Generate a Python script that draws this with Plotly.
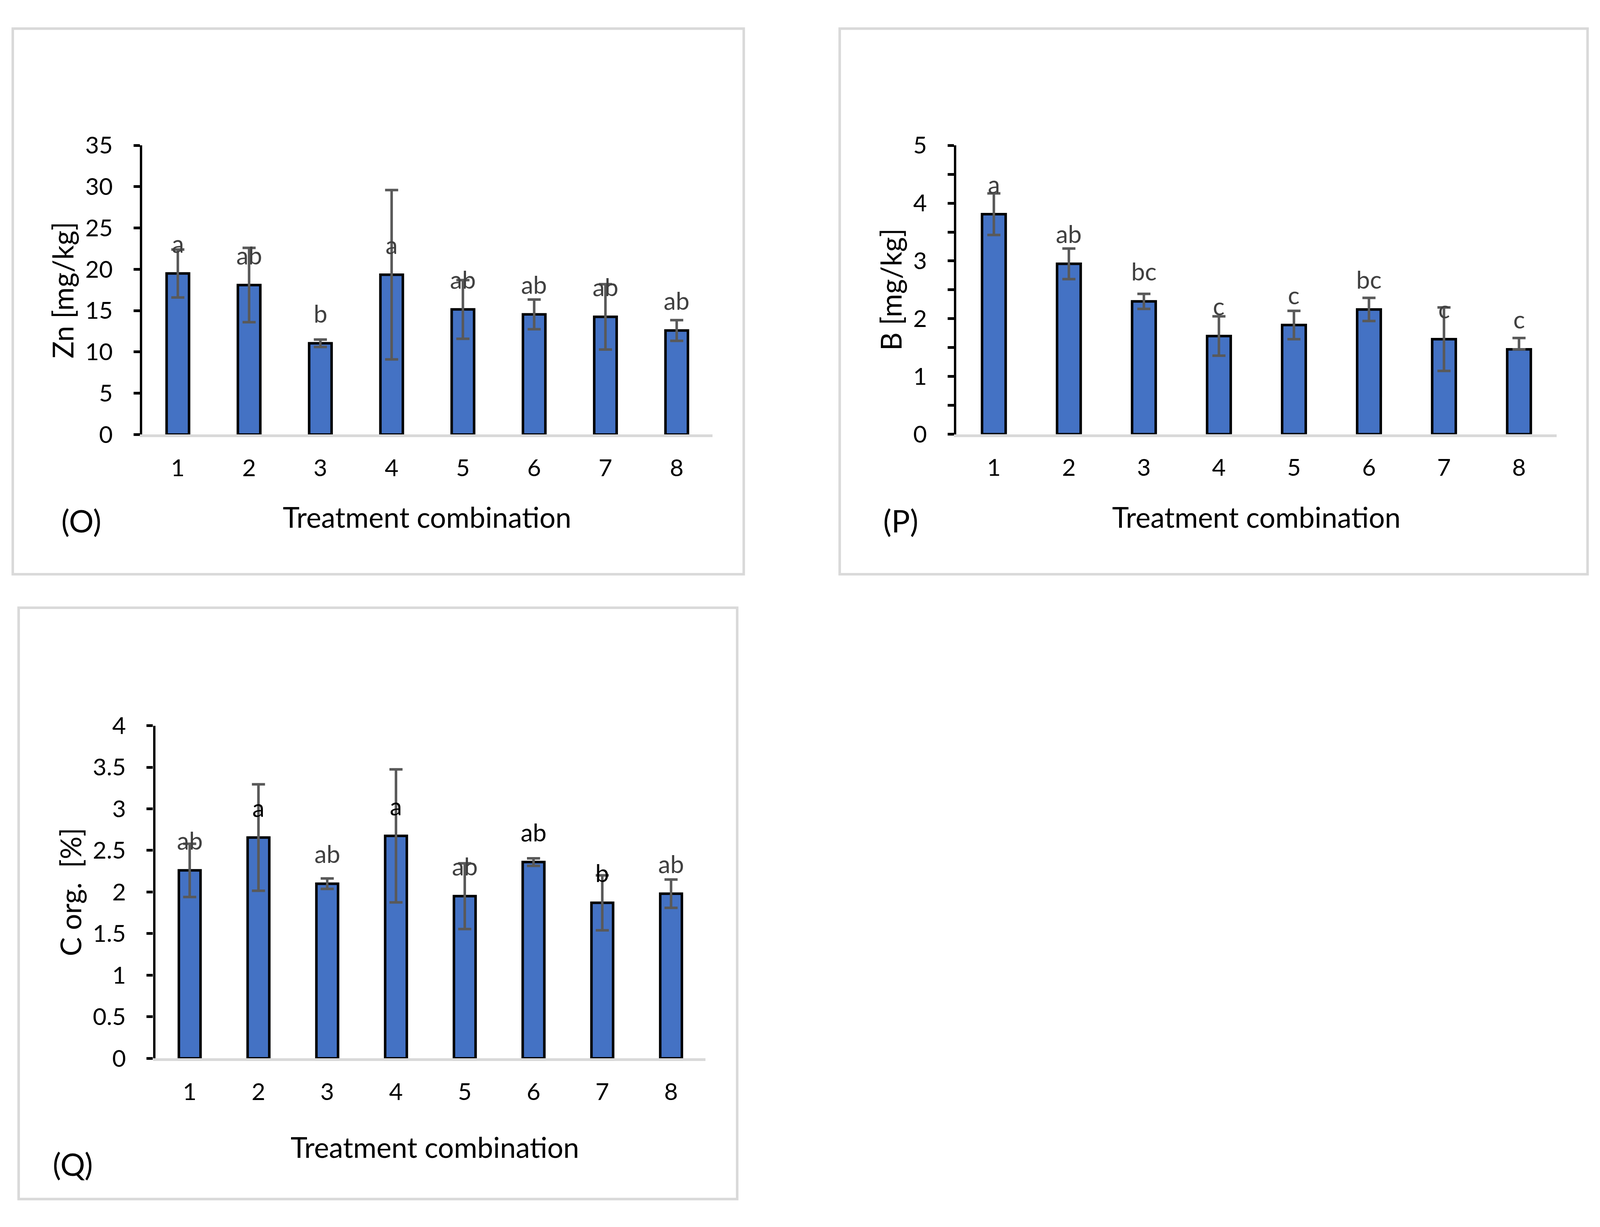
import plotly.graph_objects as go

# Reference geometry is measured on a 4636 x 3141 picture.  The figure is made
# responsive so that it fills the browser window; positions are given as
# fractions of the window, pixel sizes are scaled for a ~4096 x 3141 viewport.
REF_W, REF_H = 4636, 3141
VW, VH = 4096, 3141          # expected CSS viewport
BODY = 8                     # default body margin
SX = VW / REF_W              # horizontal px scale
SY = VH / REF_H              # vertical px scale
SF = 0.92                    # font scale (compromise between SX and SY)
FONT = "Lato"

# ---------------- data ----------------
categories = [1, 2, 3, 4, 5, 6, 7, 8]

zn_mean = [19.5, 18.1, 11.05, 19.35, 15.15, 14.55, 14.25, 12.6]
zn_err = [2.9, 4.5, 0.45, 10.25, 3.55, 1.8, 3.95, 1.25]
zn_err_minus = [2.9, 4.5, 0.45, 10.25, 3.55, 1.8, 3.95, 1.25]
zn_letters = ["a", "ab", "b", "a", "ab", "ab", "ab", "ab"]
zn_ticks = [0, 5, 10, 15, 20, 25, 30, 35]
zn_ticklabels = ["0", "5", "10", "15", "20", "25", "30", "35"]

b_mean = [3.81, 2.95, 2.30, 1.70, 1.89, 2.16, 1.645, 1.47]
b_err = [0.36, 0.265, 0.13, 0.34, 0.245, 0.20, 0.55, 0.195]
b_err_minus = [0.36, 0.265, 0.13, 0.34, 0.245, 0.20, 0.55, 0.0]
b_letters = ["a", "ab", "bc", "c", "c", "bc", "c", "c"]
b_ticks = [0, 0.5, 1, 1.5, 2, 2.5, 3, 3.5, 4, 4.5, 5]
b_ticklabels = ["0", "", "1", "", "2", "", "3", "", "4", "", "5"]

c_mean = [2.26, 2.655, 2.10, 2.675, 1.95, 2.36, 1.87, 1.98]
c_err = [0.32, 0.64, 0.063, 0.80, 0.395, 0.045, 0.33, 0.17]
c_err_minus = [0.32, 0.64, 0.063, 0.80, 0.395, 0.045, 0.33, 0.17]
c_letters = ["ab", "a", "ab", "a", "ab", "ab", "b", "ab"]
c_letter_dark = [False, True, False, True, False, True, True, False]
c_ticks = [0, 0.5, 1, 1.5, 2, 2.5, 3, 3.5, 4]
c_ticklabels = ["0", "0.5", "1", "1.5", "2", "2.5", "3", "3.5", "4"]

x_title = "Treatment combination"

# ---------------- helpers ----------------
def px(x):
    return (x / REF_W * VW - BODY) / (VW - 20)

def py(y):
    return 1 - (y / REF_H * VH - BODY) / (VH - 20)

def f(v):
    return v * SF

BAR_COLOR = "#4472c4"
ERR_COLOR = "#595959"
LABEL_GRAY = "#404040"
AXIS_GRAY = "#d9d9d9"

panels = [
    dict(key="", ov="4", mean=zn_mean, err=zn_err, errm=zn_err_minus, letters=zn_letters,
         dark=[False] * 8, ticks=zn_ticks, ticklabels=zn_ticklabels, yr=[0, 35],
         xd=(412, 2064), yd=(1099, 341), ytitle="Zn [mg/kg]",
         ytitle_pos=(180, 720), xtitle_pos=(1238, 1314),
         tag="(O)", tag_pos=(235, 1324), box=(37, 35, 2155, 1465)),
    dict(key="2", ov="5", mean=b_mean, err=b_err, errm=b_err_minus, letters=b_letters,
         dark=[False] * 8, ticks=b_ticks, ticklabels=b_ticklabels, yr=[0, 5],
         xd=(2771, 4510), yd=(1098, 341), ytitle="B [mg/kg]",
         ytitle_pos=(2580, 719), xtitle_pos=(3640, 1314),
         tag="(P)", tag_pos=(2610, 1324), box=(2433, 35, 4600, 1465)),
    dict(key="3", ov="6", mean=c_mean, err=c_err, errm=c_err_minus, letters=c_letters,
         dark=c_letter_dark, ticks=c_ticks, ticklabels=c_ticklabels, yr=[0, 4],
         xd=(450, 2044), yd=(2734, 1862), ytitle="C org.  [%]",
         ytitle_pos=(203, 2298), xtitle_pos=(1260, 2966),
         tag="(Q)", tag_pos=(211, 3011), box=(54, 1553, 2136, 3103)),
]

fig = go.Figure()
annotations = []
shapes = []
layout = {}

for p in panels:
    k = p["key"]
    xa = "x" + k
    ya = "y" + k
    fig.add_trace(go.Bar(
        x=categories, y=p["mean"], xaxis=xa, yaxis=ya, width=0.315,
        marker=dict(color=BAR_COLOR, line=dict(color="black", width=6.5)),
        error_y=dict(type="data", array=p["err"], arrayminus=p["errm"], symmetric=False,
                     visible=True, color=ERR_COLOR, thickness=6.5, width=19 * SX),
        showlegend=False, hoverinfo="skip",
    ))
    for c, m, t, d in zip(categories, p["mean"], p["letters"], p["dark"]):
        annotations.append(dict(
            x=c, y=m, xref=xa, yref=ya, text=t, showarrow=False,
            xanchor="center", yanchor="bottom", yshift=38 * SY,
            font=dict(family=FONT, size=f(68), color="black" if d else LABEL_GRAY),
        ))
    layout["xaxis" + k] = dict(
        domain=[px(p["xd"][0]), px(p["xd"][1])], range=[0.5, 8.5],
        anchor=ya, tickvals=categories, ticktext=[str(c) for c in categories],
        showline=True, linecolor=AXIS_GRAY, linewidth=7 * SY, ticks="",
        showgrid=False, zeroline=False, ticklabelstandoff=int(round(27 * SY)),
        tickfont=dict(family=FONT, size=f(66), color="black"),
    )
    layout["yaxis" + k] = dict(
        domain=[py(p["yd"][0]), py(p["yd"][1])], range=p["yr"], anchor=xa,
        tickvals=p["ticks"], ticktext=p["ticklabels"],
        ticks="outside", ticklen=int(round(18 * SX)), tickwidth=7 * SY, tickcolor="black",
        showline=True, linecolor="black", linewidth=7 * SX,
        showgrid=False, zeroline=False, ticklabelstandoff=int(round(46 * SX)),
        tickfont=dict(family=FONT, size=f(66), color="black"),
    )
    layout["yaxis" + p["ov"]] = dict(
        overlaying=ya, anchor=xa, side="left", range=p["yr"],
        tickvals=p["ticks"], ticks="inside", ticklen=int(round(18 * SX)), tickwidth=7 * SY,
        tickcolor="black", showticklabels=False, showline=False,
        showgrid=False, zeroline=False,
    )
    annotations.append(dict(
        x=px(p["xtitle_pos"][0]), y=py(p["xtitle_pos"][1]), xref="paper", yref="paper",
        text=x_title, showarrow=False, xanchor="center", yanchor="middle",
        font=dict(family=FONT, size=f(79), color="black"),
    ))
    annotations.append(dict(
        x=px(p["ytitle_pos"][0]), y=py(p["ytitle_pos"][1]), xref="paper", yref="paper",
        text=p["ytitle"], showarrow=False, xanchor="center", yanchor="middle",
        textangle=-90, font=dict(family=FONT, size=f(79), color="black"),
    ))
    annotations.append(dict(
        x=px(p["tag_pos"][0]), y=py(p["tag_pos"][1]), xref="paper", yref="paper",
        text=p["tag"], showarrow=False, xanchor="center", yanchor="middle",
        font=dict(family=FONT, size=f(86), color="black"),
    ))
    b = p["box"]
    shapes.append(dict(
        type="rect", xref="paper", yref="paper",
        x0=px(b[0]), x1=px(b[2]), y0=py(b[3]), y1=py(b[1]),
        line=dict(color=AXIS_GRAY, width=6.5), fillcolor="rgba(0,0,0,0)", layer="below",
    ))

fig.update_layout(
    autosize=True, margin=dict(l=0, r=0, t=0, b=0),
    paper_bgcolor="white", plot_bgcolor="white",
    annotations=annotations, shapes=shapes, **layout,
)

fig.write_html("out.html", config={"responsive": True},
               default_width="calc(100vw - 20px)", default_height="calc(100vh - 20px)")
